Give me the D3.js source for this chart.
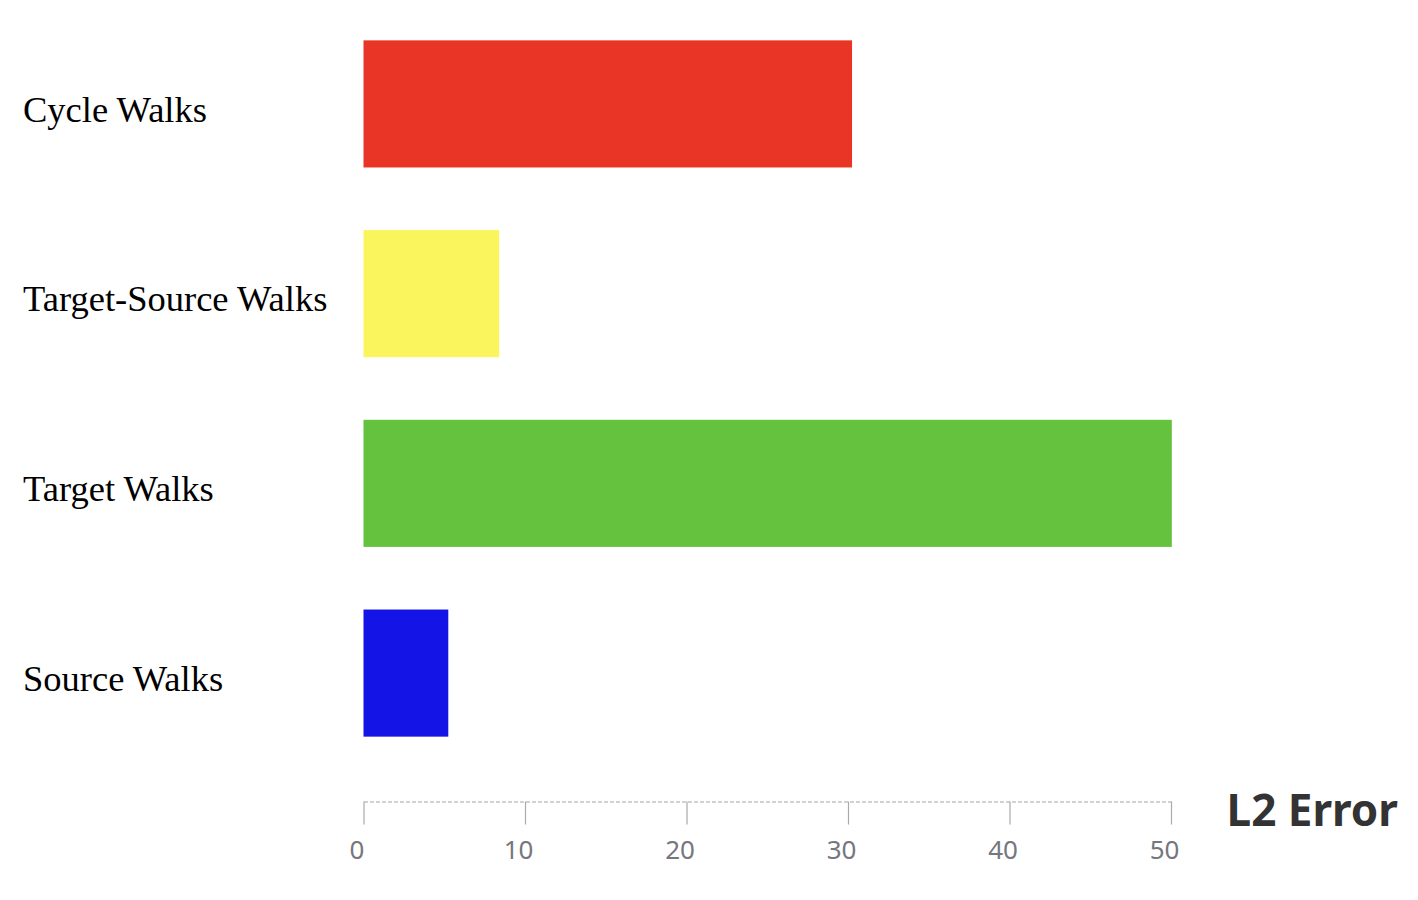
<!DOCTYPE html>
<html>
<head>
<meta charset="utf-8">
<script src="https://cdn.jsdelivr.net/npm/d3@7"></script>
<style>
    body { margin: 0; background: #fff; }
</style>
</head>
<body>
<div id="main"></div>
<script>
const categories = ["Cycle Walks", "Target-Source Walks", "Target Walks", "Source Walks"];
const values = [30.25, 8.4, 50.05, 5.25];
const colors = ["#e93526", "#faf55c", "#64c23f", "#1414e6"];
const ticks = [0, 10, 20, 30, 40, 50];
const axisTitle = "L2 Error";

const width = 1418, height = 900;
let svg = d3.select("#main").append("svg")
    .attr("width", width)
    .attr("height", height);

let scaleX = d3.scaleLinear().domain([0, 50]).range([363.5, 1171]);
let scaleY = d3.scaleBand().domain(categories).range([10, 767]).paddingInner(0.33).paddingOuter(0.16);

// bars
svg.selectAll(".bar")
    .data(categories)
    .enter().append("rect")
    .attr("class", "bar")
    .attr("x", scaleX(0))
    .attr("y", d => scaleY(d))
    .attr("width", (d, i) => scaleX(values[i]) - scaleX(0))
    .attr("height", scaleY.bandwidth())
    .attr("fill", (d, i) => colors[i]);

// category labels
svg.selectAll(".cat")
    .data(categories)
    .enter().append("text")
    .attr("class", "cat")
    .attr("x", 23)
    .attr("y", d => scaleY(d) + scaleY.bandwidth() / 2 + 5)
    .attr("dy", "0.35em")
    .style("font-family", "'Liberation Serif', 'Times New Roman', serif")
    .style("font-size", "36.5px")
    .style("fill", "#000")
    .text(d => d);

// x axis
let axisG = svg.append("g")
    .attr("transform", "translate(0,801.5)")
    .call(d3.axisBottom(scaleX).tickValues(ticks).tickSize(23).tickPadding(16).tickSizeOuter(0));

axisG.select(".domain")
    .attr("stroke", "#c4c4c4")
    .attr("stroke-width", 1.5)
    .attr("stroke-dasharray", "4,2");
axisG.selectAll(".tick line")
    .attr("stroke", "#aaa")
    .attr("stroke-width", 1.2);
axisG.selectAll(".tick text")
    .attr("dx", -7)
    .style("font-family", "'Noto Sans', 'Open Sans', sans-serif")
    .style("font-size", "26px")
    .style("fill", "#76767e");

svg.append("text")
    .attr("x", 1398)
    .attr("y", 826)
    .attr("text-anchor", "end")
    .style("font-family", "'Noto Sans', 'Open Sans', sans-serif")
    .style("font-weight", "bold")
    .style("font-size", "44px")
    .style("fill", "#333")
    .text(axisTitle);
</script>
</body>
</html>
